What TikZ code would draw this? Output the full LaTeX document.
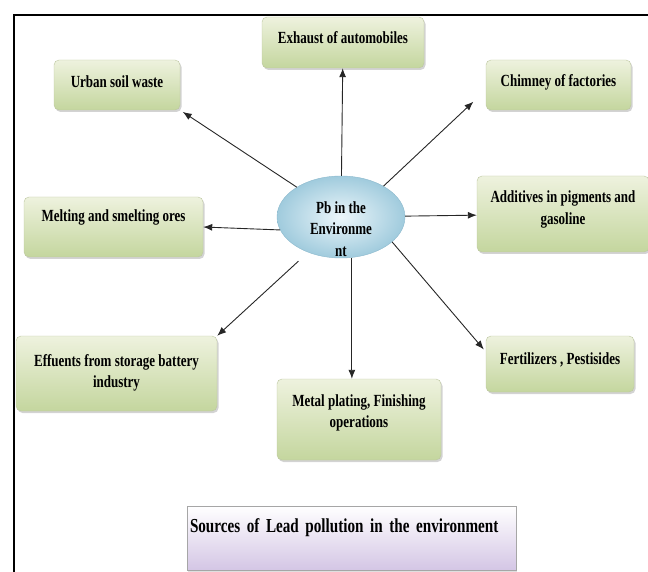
\documentclass[tikz,border=0pt]{standalone}
\usepackage{fontspec}
\setmainfont{Liberation Serif}[FakeStretch=0.765]
\usetikzlibrary{shapes,arrows,arrows.meta,shadows}

\definecolor{boxtop}{RGB}{238,242,222}
\definecolor{boxbot}{RGB}{196,214,158}
\definecolor{boxline}{RGB}{188,198,160}
\definecolor{pbin}{RGB}{236,246,250}
\definecolor{pbout}{RGB}{160,203,221}
\definecolor{pbline}{RGB}{140,185,205}
\definecolor{titlebot}{RGB}{212,198,229}

\begin{document}
\begin{tikzpicture}[x=1pt,y=-1pt]
\tikzset{src/.style={draw=boxline,rounded corners=5pt,top color=boxtop,bottom color=boxbot,
	font=\fontsize{17}{21.5}\selectfont\bfseries,align=center,inner sep=2pt,text height=12pt,
	drop shadow={shadow xshift=1.5pt,shadow yshift=-2pt,opacity=.35}}}
\tikzset{twoline/.style={text height=33.5pt}}
\tikzset{pbnode/.style={ellipse,draw=pbline,inner color=pbin,outer color=pbout,
	minimum width=128pt,minimum height=82pt,inner sep=0pt}}
\tikzset{pbtext/.style={font=\fontsize{17}{21.5}\selectfont\bfseries,align=center,inner sep=0pt}}
\tikzset{titlebox/.style={draw=black!35,top color=white,bottom color=titlebot,
	font=\fontsize{19.8}{24}\selectfont\bfseries,align=left,inner xsep=3pt,
	text height=14.5pt,text depth=25.9pt,
	drop shadow={shadow xshift=1pt,shadow yshift=-1.5pt,opacity=.25}}}
\tikzset{link/.style={->,line width=.9pt,black!85}}
\tikzset{>={Latex[length=9pt,width=7pt]}}

\useasboundingbox (0,0) rectangle (648,572);
\draw[line width=2pt] (14,572) -- (14,15) -- (648,15);

% centre
\node[pbnode] (pb) at (341,217) {};
\node[pbtext] (pbtxt) at (341,229) {Pb in the\\Environme\\nt};

% sources
\node[src,minimum width=162pt,minimum height=51pt,text depth=10pt] (exhaust) at (343,42.5) {Exhaust of automobiles};
\node[src,minimum width=126pt,minimum height=50pt,text depth=7pt] (urban) at (117,85) {Urban soil waste};
\node[src,minimum width=145pt,minimum height=50pt,text depth=9pt] (chimney) at (558.5,85) {Chimney of factories};
\node[src,minimum width=179pt,minimum height=60pt,text depth=23pt] (melting) at (113.5,227) {Melting and smelting ores};
\node[src,twoline,minimum width=172pt,minimum height=76pt,text depth=13.2pt] (additives) at (563,214) {Additives in pigments and\\gasoline};
\node[src,twoline,minimum width=201pt,minimum height=75pt,text depth=5.2pt] (effuents) at (116.5,373.5) {Effuents from storage battery\\industry};
\node[src,twoline,minimum width=164pt,minimum height=81pt,text depth=17.2pt] (metal) at (359,419.5) {Metal plating, Finishing\\operations};
\node[src,minimum width=148pt,minimum height=56pt,text depth=11pt] (fert) at (560,364) {Fertilizers , Pestisides};

\node[titlebox,text width=323pt,minimum height=64pt] (title) at (351.5,538) {Sources of Lead pollution in the environment};

% arrows
\draw[link] (pb) -- (exhaust);
\draw[link,shorten >=3pt] (pb.146) -- (urban.south east);
\draw[link,shorten >=17pt] (pb.36) -- ([yshift=-5pt]chimney.west);
\draw[link] (pb.192) -- (melting.east);
\draw[link] (pb) -- (additives);
\draw[link,shorten <=13pt] (pb.227) -- (effuents.north east);
\draw[link] (pb.-75) -- (pb.-75 |- metal.north);
\draw[link,shorten >=3pt] (pb.-26) -- ([yshift=-16pt]fert.north west);
\end{tikzpicture}
\end{document}
